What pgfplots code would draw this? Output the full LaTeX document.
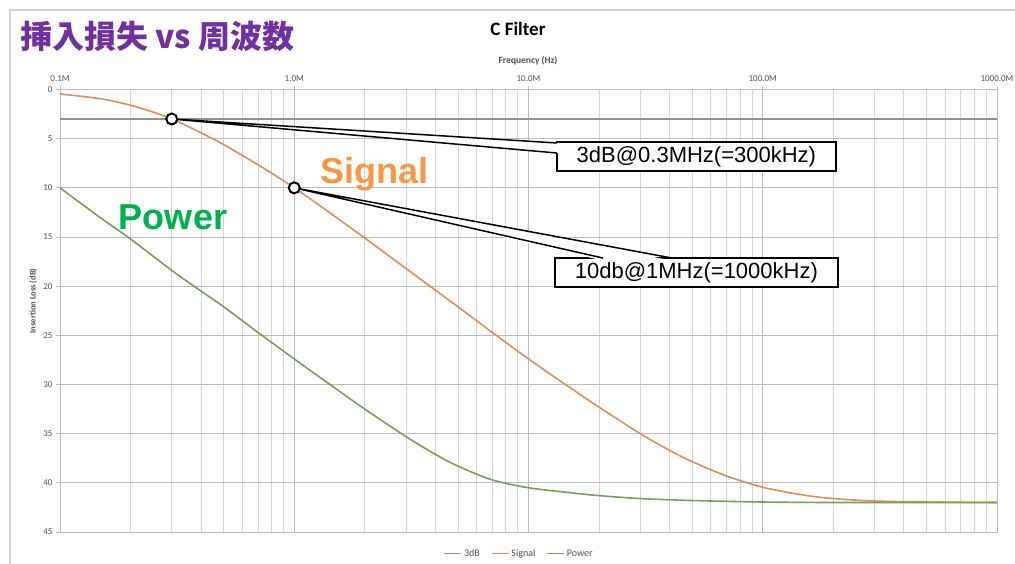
\documentclass[border=0pt]{standalone}
\usepackage{fontspec}
\setmainfont{Carlito}
\newfontfamily\arial{Liberation Sans}
\newfontfamily\cjk{Noto Sans CJK JP}
\usepackage{pgfplots}
\usepackage{pgfplotstable}
\pgfplotsset{compat=1.18}

\definecolor{sigline}{RGB}{222,140,90}
\definecolor{powline}{RGB}{118,160,88}
\definecolor{refline}{RGB}{145,145,145}
\definecolor{sigtext}{RGB}{247,150,70}
\definecolor{powtext}{RGB}{0,176,80}
\definecolor{titlepurple}{RGB}{112,48,160}
\definecolor{gridmaj}{RGB}{188,188,188}
\definecolor{gridmin}{RGB}{212,212,212}
\definecolor{labelc}{RGB}{80,80,80}
\definecolor{framec}{RGB}{210,210,210}

% frequency in MHz, insertion loss in dB
\pgfplotstableread{
f loss
0.1 0.45
0.15 0.95
0.2 1.6
0.25 2.3
0.3 3.0
0.4 4.4
0.5 5.6
0.6 6.7
0.7 7.65
0.8 8.5
1.0 10.0
1.2 11.3
1.5 12.95
2.0 15.1
3.0 18.2
4.0 20.4
5.0 22.1
7.0 24.7
10 27.4
15 30.3
20 32.3
30 35.0
40 36.7
50 37.85
70 39.3
100 40.45
150 41.25
200 41.6
300 41.85
500 41.95
1000 42.0
}\signaldata

\pgfplotstableread{
f loss
0.1 10.0
0.15 13.1
0.2 15.2
0.3 18.4
0.4 20.5
0.5 22.1
0.7 24.7
1.0 27.4
1.5 30.4
2.0 32.5
3.0 35.3
4.0 37.1
5.0 38.3
7.0 39.7
10 40.5
15 41.0
20 41.3
30 41.6
50 41.8
100 41.95
200 42.0
1000 42.0
}\powerdata

\begin{document}
\begin{tikzpicture}
\path[use as bounding box] (0,0) rectangle (1015pt,-564pt);
\draw[framec, line width=2pt] (10pt,-600pt) -- (10pt,-10pt) -- (1050pt,-10pt);

\node[anchor=base west, text=titlepurple, font=\cjk\bfseries\fontsize{32}{36}\selectfont, inner sep=0pt]
  at (20pt,-48.5pt) {挿入損失 vs 周波数};
\node[anchor=base, font=\bfseries\fontsize{19}{22}\selectfont, inner sep=0pt] at (518pt,-36pt) {C Filter};
\node[anchor=base, font=\bfseries\fontsize{9.5}{11}\selectfont, text=labelc, inner sep=0pt] at (528pt,-64pt) {Frequency (Hz)};
\node[rotate=90, font=\bfseries\fontsize{8.5}{10}\selectfont, text=labelc, inner sep=0pt] at (33pt,-301pt) {Insertion Loss (dB)};

\begin{axis}[
  at={(60pt,-89.5pt)}, anchor=north west,
  scale only axis, width=937pt, height=442.5pt,
  xmode=log, xmin=0.1, xmax=1000,
  ymin=0, ymax=45, y dir=reverse,
  xtick={0.1,1,10,100,1000},
  xticklabels={0.1M,1.0M,10.0M,100.0M,1000.0M},
  minor xtick={0.2,0.3,0.4,0.5,0.6,0.7,0.8,0.9,2,3,4,5,6,7,8,9,20,30,40,50,60,70,80,90,200,300,400,500,600,700,800,900},
  ytick={0,5,...,45},
  xtick pos=right, ytick pos=left,
  xticklabel pos=right,
  tick align=outside, major tick length=4pt, minor tick length=0pt,
  tick style={gridmaj, line width=0.8pt},
  axis line style={gridmaj, line width=0.8pt},
  xmajorgrids, xminorgrids, ymajorgrids,
  major grid style={gridmaj, line width=0.9pt},
  minor grid style={gridmin, line width=0.9pt},
  ticklabel style={font=\fontsize{9}{10}\selectfont, text=labelc},
  /pgf/number format/assume math mode=true,
  legend style={at={(0.49,-0.03)}, anchor=north, legend columns=3, draw=none,
    font=\fontsize{10}{11}\selectfont,
    /tikz/every even column/.append style={column sep=9pt}},
]
\addplot[color=refline, line width=1.8pt, forget plot] coordinates {(0.1,3) (1000,3)};
\addplot[color=sigline, line width=1.6pt, smooth, forget plot] table[x=f, y=loss] {\signaldata};
\addplot[color=powline, line width=1.6pt, smooth, forget plot] table[x=f, y=loss] {\powerdata};

% legend keys
\addlegendimage{line legend, draw=refline, line width=1.5pt}
\addlegendentry{\textcolor{labelc}{3dB}}
\addlegendimage{line legend, draw=sigline, line width=1.5pt}
\addlegendentry{\textcolor{labelc}{Signal}}
\addlegendimage{line legend, draw=powline, line width=1.5pt}
\addlegendentry{\textcolor{labelc}{Power}}

\node[font=\arial\bfseries\fontsize{36}{40}\selectfont, text=sigtext, inner sep=0pt] at (axis cs:2.21,8.64) {Signal};
\node[font=\arial\bfseries\fontsize{36}{40}\selectfont, text=powtext, inner sep=0pt] at (axis cs:0.3037,12.97) {Power};

% callout boxes
\node[draw=black, fill=white, line width=1.3pt, minimum width=279pt, minimum height=29pt, inner sep=0pt,
  font=\arial\fontsize{22}{24}\selectfont] at (axis cs:52.1,6.81) {3dB@0.3MHz(=300kHz)};
\fill[white] (axis cs:0.3,3) -- (axis cs:13.6,5.44) -- (axis cs:13.6,6.46) -- cycle;
\draw[black, line width=1.5pt] (axis cs:13.24,5.44) -- (axis cs:0.3,3) -- (axis cs:13.24,6.46);

\node[draw=black, fill=white, line width=1.3pt, minimum width=283pt, minimum height=29pt, inner sep=0pt,
  font=\arial\fontsize{22}{24}\selectfont] at (axis cs:52.1,18.61) {10db@1MHz(=1000kHz)};
\fill[white] (axis cs:1,10) -- (axis cs:20.8,17.4) -- (axis cs:41.0,17.4) -- cycle;
\draw[black, line width=1.5pt] (axis cs:20.8,17.14) -- (axis cs:1,10) -- (axis cs:41.0,17.14);

% marked points
\addplot[only marks, mark=*, mark size=5.5pt, forget plot,
  mark options={fill=white, draw=black, line width=2pt}] coordinates {(0.3,3) (1,10)};
\end{axis}
\end{tikzpicture}
\end{document}
